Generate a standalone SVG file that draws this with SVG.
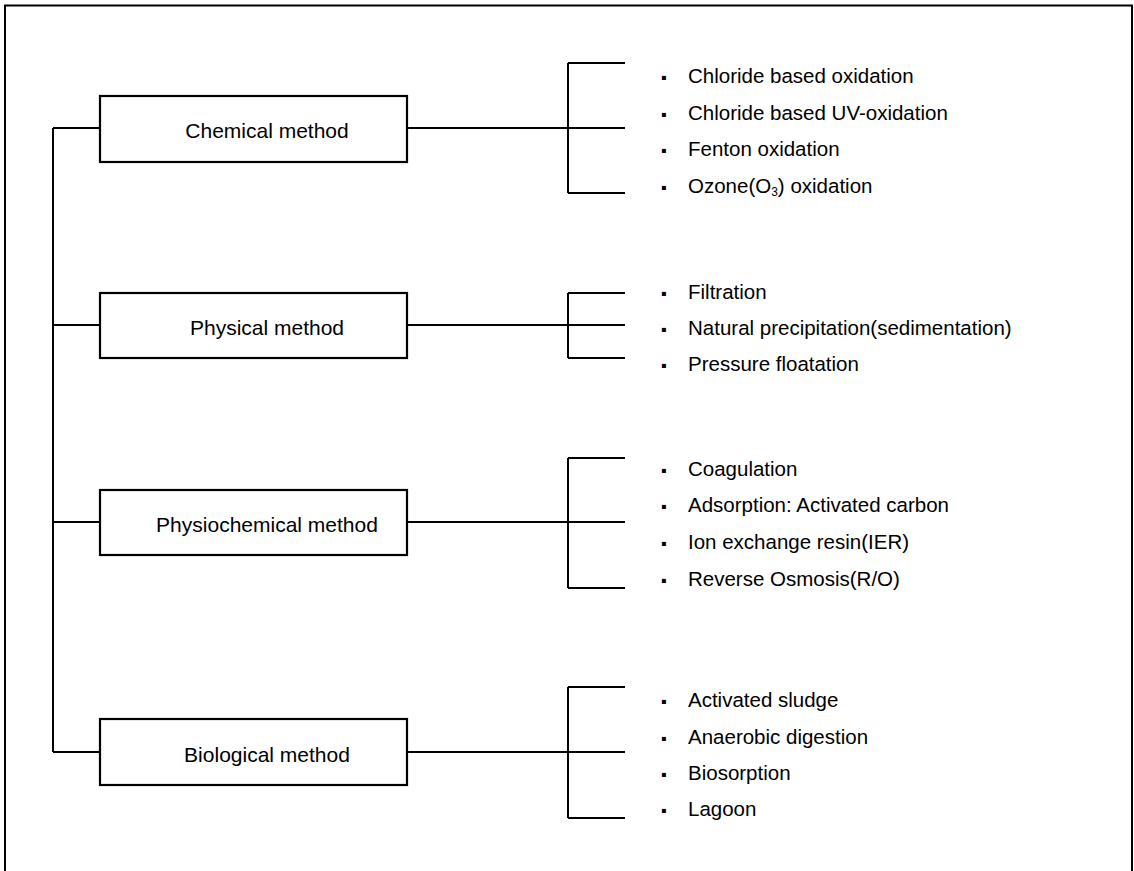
<svg xmlns="http://www.w3.org/2000/svg" width="1134" height="871" viewBox="0 0 1134 871">
<style>
.ln{fill:none;stroke:#000;stroke-width:2}
.box{fill:#fff;stroke:#000;stroke-width:2.2}
.lbl{font-family:"Liberation Sans",Arial,sans-serif;font-size:21px;fill:#000;text-anchor:middle}
.it{font-family:"Liberation Sans",Arial,sans-serif;font-size:20.5px;fill:#000}
.b{font-size:28px;font-weight:bold}
.sub{font-size:12px}
</style>
<rect x="0" y="0" width="1134" height="871" fill="#fff"/>
<path class="ln" d="M5,880 V5.5 H1132 V880" stroke="#222" stroke-width="1.8"/>
<g id="connectors">
<path class="ln" d="M53,128 V752 M53,128 H100 M53,325 H100 M53,522 H100 M53,752 H100"/>
<path class="ln" d="M407,128 H568 M568,63 V193 M568,63 H625 M568,128 H625 M568,193 H625"/>
<path class="ln" d="M407,325 H568 M568,293 V358 M568,293 H625 M568,325 H625 M568,358 H625"/>
<path class="ln" d="M407,522 H568 M568,458 V588 M568,458 H625 M568,522 H625 M568,588 H625"/>
<path class="ln" d="M407,752 H568 M568,687 V818 M568,687 H625 M568,752 H625 M568,818 H625"/>
</g>
<g id="chemical">
<rect class="box" x="100" y="96" width="307" height="66"/>
<text class="lbl" x="267" y="138">Chemical method</text>
</g>
<g id="physical">
<rect class="box" x="100" y="293" width="307" height="65"/>
<text class="lbl" x="267" y="335">Physical method</text>
</g>
<g id="physiochemical">
<rect class="box" x="100" y="490" width="307" height="65"/>
<text class="lbl" x="267" y="532">Physiochemical method</text>
</g>
<g id="biological">
<rect class="box" x="100" y="719" width="307" height="66"/>
<text class="lbl" x="267" y="762">Biological method</text>
</g>
<g id="chemical-items" class="it">
<text x="660" y="83"><tspan class="b" dy="4">·</tspan><tspan x="688" dy="-4">Chloride based oxidation</tspan></text>
<text x="660" y="120"><tspan class="b" dy="4">·</tspan><tspan x="688" dy="-4">Chloride based UV-oxidation</tspan></text>
<text x="660" y="156"><tspan class="b" dy="4">·</tspan><tspan x="688" dy="-4">Fenton oxidation</tspan></text>
<text x="660" y="193"><tspan class="b" dy="4">·</tspan><tspan x="688" dy="-4">Ozone(O</tspan><tspan class="sub" dy="3">3</tspan><tspan dy="-3">) oxidation</tspan></text>
</g>
<g id="physical-items" class="it">
<text x="660" y="299"><tspan class="b" dy="4">·</tspan><tspan x="688" dy="-4">Filtration</tspan></text>
<text x="660" y="335"><tspan class="b" dy="4">·</tspan><tspan x="688" dy="-4">Natural precipitation(sedimentation)</tspan></text>
<text x="660" y="371"><tspan class="b" dy="4">·</tspan><tspan x="688" dy="-4">Pressure floatation</tspan></text>
</g>
<g id="physiochemical-items" class="it">
<text x="660" y="476"><tspan class="b" dy="4">·</tspan><tspan x="688" dy="-4">Coagulation</tspan></text>
<text x="660" y="512"><tspan class="b" dy="4">·</tspan><tspan x="688" dy="-4">Adsorption: Activated carbon</tspan></text>
<text x="660" y="549"><tspan class="b" dy="4">·</tspan><tspan x="688" dy="-4">Ion exchange resin(IER)</tspan></text>
<text x="660" y="586"><tspan class="b" dy="4">·</tspan><tspan x="688" dy="-4">Reverse Osmosis(R/O)</tspan></text>
</g>
<g id="biological-items" class="it">
<text x="660" y="707"><tspan class="b" dy="4">·</tspan><tspan x="688" dy="-4">Activated sludge</tspan></text>
<text x="660" y="744"><tspan class="b" dy="4">·</tspan><tspan x="688" dy="-4">Anaerobic digestion</tspan></text>
<text x="660" y="780"><tspan class="b" dy="4">·</tspan><tspan x="688" dy="-4">Biosorption</tspan></text>
<text x="660" y="816"><tspan class="b" dy="4">·</tspan><tspan x="688" dy="-4">Lagoon</tspan></text>
</g>
</svg>
